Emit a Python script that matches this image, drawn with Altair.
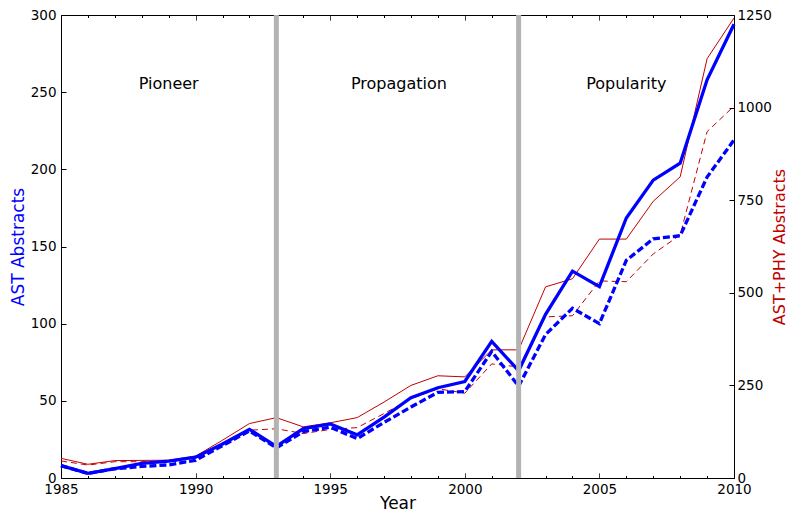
import altair as alt
import pandas as pd

# ---- data ----
years = list(range(1985, 2011))
ast_all = [8, 3, 6, 9.5, 11, 13.5, 22, 31.5, 20.5, 32, 35, 28, 39.5, 52, 58.5, 62.5,
           88.5, 69.5, 106, 134, 124, 168.5, 193, 204, 258, 294]
ast_ref = [8, 3, 6, 7.5, 8.5, 11.5, 21, 30.5, 19.5, 30, 33, 25.5, 36, 46, 55.5, 56,
           82, 59.5, 93, 110, 100, 141, 155, 157, 195, 219]
astphy_all = [53, 37, 47, 47.5, 48, 59, 102, 147, 163, 138, 149, 163, 205, 250, 276, 273,
              346, 346, 516, 538, 645, 645, 747, 813, 1132, 1242]
astphy_ref = [46, 35, 44, 44, 45, 44, 89, 129, 133, 120, 131, 136, 174, 214, 241, 229,
              308, 300, 435, 438, 532, 530, 605, 656, 935, 1004]

phase_years = [1993, 2002]
phase_names = ["Pioneer", "Propagation", "Popularity"]
phase_label_x = [1989.0, 1997.55, 2006.0]
phase_label_y = [255, 255, 255]

left_ticks = [0, 50, 100, 150, 200, 250, 300]
right_ticks = [0, 250, 500, 750, 1000, 1250]

df = pd.DataFrame({"year": years, "ast": ast_all, "ast_ref": ast_ref,
                   "astphy": astphy_all, "astphy_ref": astphy_ref})
rules_df = pd.DataFrame({"year": phase_years})
labels_df = pd.DataFrame({"year": phase_label_x, "ast": phase_label_y, "name": phase_names})

BLUE = "#0000ff"
RED = "#c00000"
FONT = "DejaVu Sans"

minor_test = "datum.value % 5 !== 0"
tick_dash = alt.condition(minor_test, alt.value([0, 2.5, 2.5, 0]), alt.value([1, 0]))

x_scale = alt.Scale(domain=[1985, 2010], nice=False, zero=False)

x_bottom_axis = alt.Axis(orient="bottom", values=years, format="d",
                         labelExpr="datum.value % 5 === 0 ? datum.label : ''",
                         tickSize=5, offset=-5, domain=False, grid=False,
                         tickColor="black", tickDash=tick_dash, labelFlush=False,
                         labelOverlap=False, labelPadding=4,
                         title="Year", titlePadding=0, titleColor="black")
x_top_axis = alt.Axis(orient="top", values=years, labels=False, tickSize=5, offset=-5,
                      domain=False, grid=False, tickColor="black", tickDash=tick_dash,
                      title="")

left_axis = alt.Axis(orient="left", values=left_ticks, format="d", tickSize=5, offset=-5,
                     domain=False, grid=False, tickColor="black", labelPadding=5,
                     title="AST Abstracts", titleColor=BLUE, titlePadding=3)
right_axis = alt.Axis(orient="right", values=right_ticks, format="d", tickSize=5, offset=-5,
                      domain=False, grid=False, tickColor="black", labelPadding=3,
                      title="AST+PHY Abstracts", titleColor=RED, titlePadding=0,
                      titleFontSize=16, titleAngle=270, titleBaseline="top")

left_scale = alt.Scale(domain=[0, 300], nice=False, zero=True)
right_scale = alt.Scale(domain=[0, 1250], nice=False, zero=True)

xb = alt.X("year:Q", scale=x_scale, axis=x_bottom_axis)
xt = alt.X("year:Q", scale=x_scale, axis=x_top_axis)

red_solid = alt.Chart(df).mark_line(color=RED, strokeWidth=1).encode(
    x=xt, y=alt.Y("astphy:Q", scale=right_scale, axis=right_axis))
red_dash = alt.Chart(df).mark_line(color=RED, strokeWidth=1, strokeDash=[6, 4]).encode(
    x=xt, y=alt.Y("astphy_ref:Q", scale=right_scale, axis=right_axis))
red_layer = alt.layer(red_solid, red_dash)

blue_dash = alt.Chart(df).mark_line(color=BLUE, strokeWidth=3.3, strokeDash=[7, 3]).encode(
    x=xb, y=alt.Y("ast_ref:Q", scale=left_scale, axis=left_axis))
blue_solid = alt.Chart(df).mark_line(color=BLUE, strokeWidth=3.3).encode(
    x=xb, y=alt.Y("ast:Q", scale=left_scale, axis=left_axis))
phase_rules = alt.Chart(rules_df).mark_rule(color="#b3b3b3", strokeWidth=5).encode(x=xb)
phase_text = alt.Chart(labels_df).mark_text(fontSize=16, font=FONT, color="black",
                                            align="center", baseline="middle").encode(
    x=xb, y=alt.Y("ast:Q", scale=left_scale, axis=left_axis), text="name:N")
blue_layer = alt.layer(blue_dash, blue_solid, phase_rules, phase_text)

chart = (
    alt.layer(red_layer, blue_layer)
    .resolve_scale(y="independent")
    .resolve_axis(x="independent")
    .properties(width=673, height=463,
                padding={"left": 53, "top": 7, "right": 54, "bottom": 35},
                autosize=alt.AutoSizeParams(type="none"))
    .configure(font=FONT)
    .configure_view(stroke="black", strokeWidth=1)
    .configure_axis(labelFont=FONT, labelFontSize=13.5, labelColor="black",
                    titleFont=FONT, titleFontSize=17, titleFontWeight="normal")
)

chart.save("out.html", embed_options={"renderer": "svg", "actions": False})
